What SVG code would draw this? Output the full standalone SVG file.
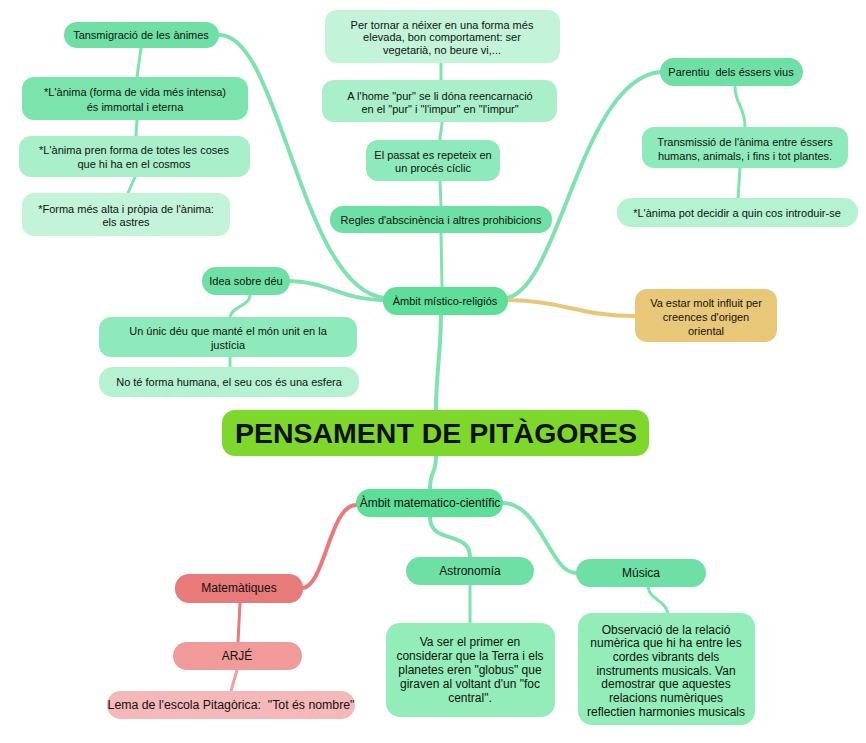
<svg xmlns="http://www.w3.org/2000/svg" width="866" height="743" viewBox="0 0 866 743">
<style>
text{font-family:"Liberation Sans",Arial,sans-serif;font-size:11px;fill:#111;text-anchor:middle;white-space:pre}
.b12 text{font-size:12px}
.c{fill:none;stroke:#7fe3b0;stroke-linecap:round}
.w4{stroke-width:4}
.w3{stroke-width:3}
.red{stroke:#e87a7a}
.red2{stroke:#f0a0a0}
.tan{stroke:#e8c878}
.g1{fill:#6fe0a5}
.g0{fill:#5ddf98}
.g2{fill:#8eeaba}
.g3{fill:#a9efca}
.g4{fill:#c3f4d9}
.g5{fill:#b5f2d2}
.ga{fill:#92edb8}
</style>
<rect width="866" height="743" fill="#fff"/>
<g id="connectors">
<path class="c w4" d="M436,410 C436,375 441,350 441,315"/>
<path class="c w3" d="M442,287 L441,233"/>
<path class="c w3" d="M441,206 L440,181"/>
<path class="c w3" d="M440,140 C440,132 442,130 442,122"/>
<path class="c w3" d="M441,80 L441,63"/>
<path class="c w4" d="M385,298 C300,290 280,30 218,35"/>
<path class="c w4" d="M385,300 C340,300 330,282 290,281"/>
<path class="c w4" d="M506,298 C560,290 580,80 660,72"/>
<path class="c w4 tan" d="M506,300 C560,300 580,316 635,316"/>
<path class="c w3" d="M141,48 L137,77"/>
<path class="c w3" d="M137,120 L136,136"/>
<path class="c w3" d="M135,177 L128,193"/>
<path class="c w3" d="M250,295 C250,306 232,306 230,317"/>
<path class="c w3" d="M230,357 L230,367"/>
<path class="c w3" d="M735,86 C735,105 745,106 745,127"/>
<path class="c w3" d="M740,168 L738,198"/>
<path class="c w4" d="M436,456 C436,475 430,470 430,489"/>
<path class="c w4 red" d="M356,505 C330,505 325,585 303,588"/>
<path class="c w4" d="M430,517 C430,545 470,530 470,557"/>
<path class="c w4" d="M503,503 C540,503 550,573 576,573"/>
<path class="c w3 red" d="M240,603 L238,642"/>
<path class="c w3 red2" d="M237,670 L231,691"/>
<path class="c w3" d="M470,585 L470,623"/>
<path class="c w3" d="M648,587 C650,600 665,600 668,613"/>
</g>
<g id="n-transmigracio"><rect class="g1" x="64" y="22" width="155" height="26" rx="13"/><text x="141" y="39">Tansmigració de les ànimes</text></g>
<g id="n-anima-immortal"><rect fill="#7be4ad" x="22" y="77" width="226" height="43" rx="12"/><text x="135" y="96">*L'ànima (forma de vida més intensa)</text><text x="135" y="111">és immortal i eterna</text></g>
<g id="n-anima-forma"><rect class="g3" x="19" y="136" width="231" height="41" rx="12"/><text x="134" y="154">*L'ànima pren forma de totes les coses</text><text x="134" y="168">que hi ha en el cosmos</text></g>
<g id="n-astres"><rect class="g4" x="22" y="193" width="208" height="43" rx="12"/><text x="126" y="213">*Forma més alta i pròpia de l'ànima:</text><text x="126" y="226">els astres</text></g>
<g id="n-tornar"><rect class="g4" x="325" y="10" width="235" height="53" rx="12"/><text x="442" y="29">Per tornar a néixer en una forma més</text><text x="442" y="41">elevada, bon comportament: ser</text><text x="442" y="54">vegetarià, no beure vi,...</text></g>
<g id="n-home-pur"><rect class="g3" x="322" y="80" width="235" height="42" rx="12"/><text x="440" y="100">A l'home "pur" se li dóna reencarnació</text><text x="440" y="113">en el "pur" i "l'impur" en "l'impur"</text></g>
<g id="n-passat"><rect class="g2" x="366" y="140" width="134" height="41" rx="12"/><text x="433" y="159">El passat es repeteix en</text><text x="433" y="172">un procés cíclic</text></g>
<g id="n-regles"><rect class="g1" x="330" y="206" width="222" height="27" rx="13"/><text x="441" y="224">Regles d'abscinència i altres prohibicions</text></g>
<g id="n-parentiu"><rect class="g1" x="660" y="58" width="143" height="28" rx="14"/><text x="731" y="76" xml:space="preserve">Parentiu  dels éssers vius</text></g>
<g id="n-transmissio"><rect class="g2" x="642" y="127" width="206" height="41" rx="12"/><text x="745" y="146">Transmissió de l'ànima entre éssers</text><text x="745" y="160">humans, animals, i fins i tot plantes.</text></g>
<g id="n-decidir"><rect class="g5" x="617" y="198" width="241" height="29" rx="14"/><text x="737" y="217">*L'ànima pot decidir a quin cos introduir-se</text></g>
<g id="n-idea"><rect class="g1" x="202" y="267" width="88" height="28" rx="14"/><text x="246" y="285">Idea sobre déu</text></g>
<g id="n-unic"><rect class="g2" x="99" y="317" width="258" height="40" rx="12"/><text x="228" y="335">Un únic déu que manté el món unit en la</text><text x="228" y="349">justícia</text></g>
<g id="n-esfera"><rect class="g5" x="99" y="367" width="260" height="30" rx="14"/><text x="229" y="386">No té forma humana, el seu cos és una esfera</text></g>
<g id="n-mistico"><rect class="g0" x="383" y="287" width="125" height="28" rx="14"/><text x="445" y="305">Àmbit místico-religiós</text></g>
<g id="n-oriental"><rect fill="#e8c878" x="635" y="289" width="142" height="53" rx="12"/><text x="706" y="307">Va estar molt influit per</text><text x="706" y="321">creences d'origen</text><text x="706" y="335">oriental</text></g>
<g id="n-title"><rect fill="#7ed82b" x="222" y="410" width="427" height="46" rx="13"/><text x="436" y="443" style="font-size:28.5px;font-weight:bold">PENSAMENT DE PITÀGORES</text></g>
<g id="n-matematico" class="b12"><rect class="g0" x="356" y="489" width="147" height="28" rx="14"/><text x="430" y="507">Àmbit matematico-científic</text></g>
<g id="n-matematiques" class="b12"><rect fill="#e87a7a" x="175" y="574" width="128" height="29" rx="14"/><text x="239" y="592">Matemàtiques</text></g>
<g id="n-arje" class="b12"><rect fill="#f09a9a" x="173" y="642" width="129" height="28" rx="14"/><text x="237" y="660">ARJÉ</text></g>
<g id="n-lema" class="b12"><rect fill="#f5b8b8" x="107" y="691" width="248" height="28" rx="14"/><text x="231" y="709" xml:space="preserve" style="font-size:12.3px">Lema de l'escola Pitagòrica:  "Tot és nombre"</text></g>
<g id="n-astronomia" class="b12"><rect class="g1" x="406" y="557" width="128" height="28" rx="14"/><text x="470" y="575">Astronomía</text></g>
<g id="n-globus" class="b12"><rect class="ga" x="386" y="623" width="169" height="94" rx="14"/><text x="470" y="646">Va ser el primer en</text><text x="470" y="660">considerar que la Terra i els</text><text x="470" y="674">planetes eren "globus" que</text><text x="470" y="688">giraven al voltant d'un "foc</text><text x="470" y="702">central".</text></g>
<g id="n-musica" class="b12"><rect class="g1" x="576" y="559" width="130" height="28" rx="14"/><text x="641" y="577">Música</text></g>
<g id="n-observacio" class="b12"><rect class="ga" x="578" y="613" width="177" height="112" rx="14"/><text x="666" y="634">Observació de la relació</text><text x="666" y="647">numèrica que hi ha entre les</text><text x="666" y="661">cordes vibrants dels</text><text x="666" y="675">instruments musicals. Van</text><text x="666" y="688">demostrar que aquestes</text><text x="666" y="702">relacions numèriques</text><text x="666" y="716">reflectien harmonies musicals</text></g>
</svg>
